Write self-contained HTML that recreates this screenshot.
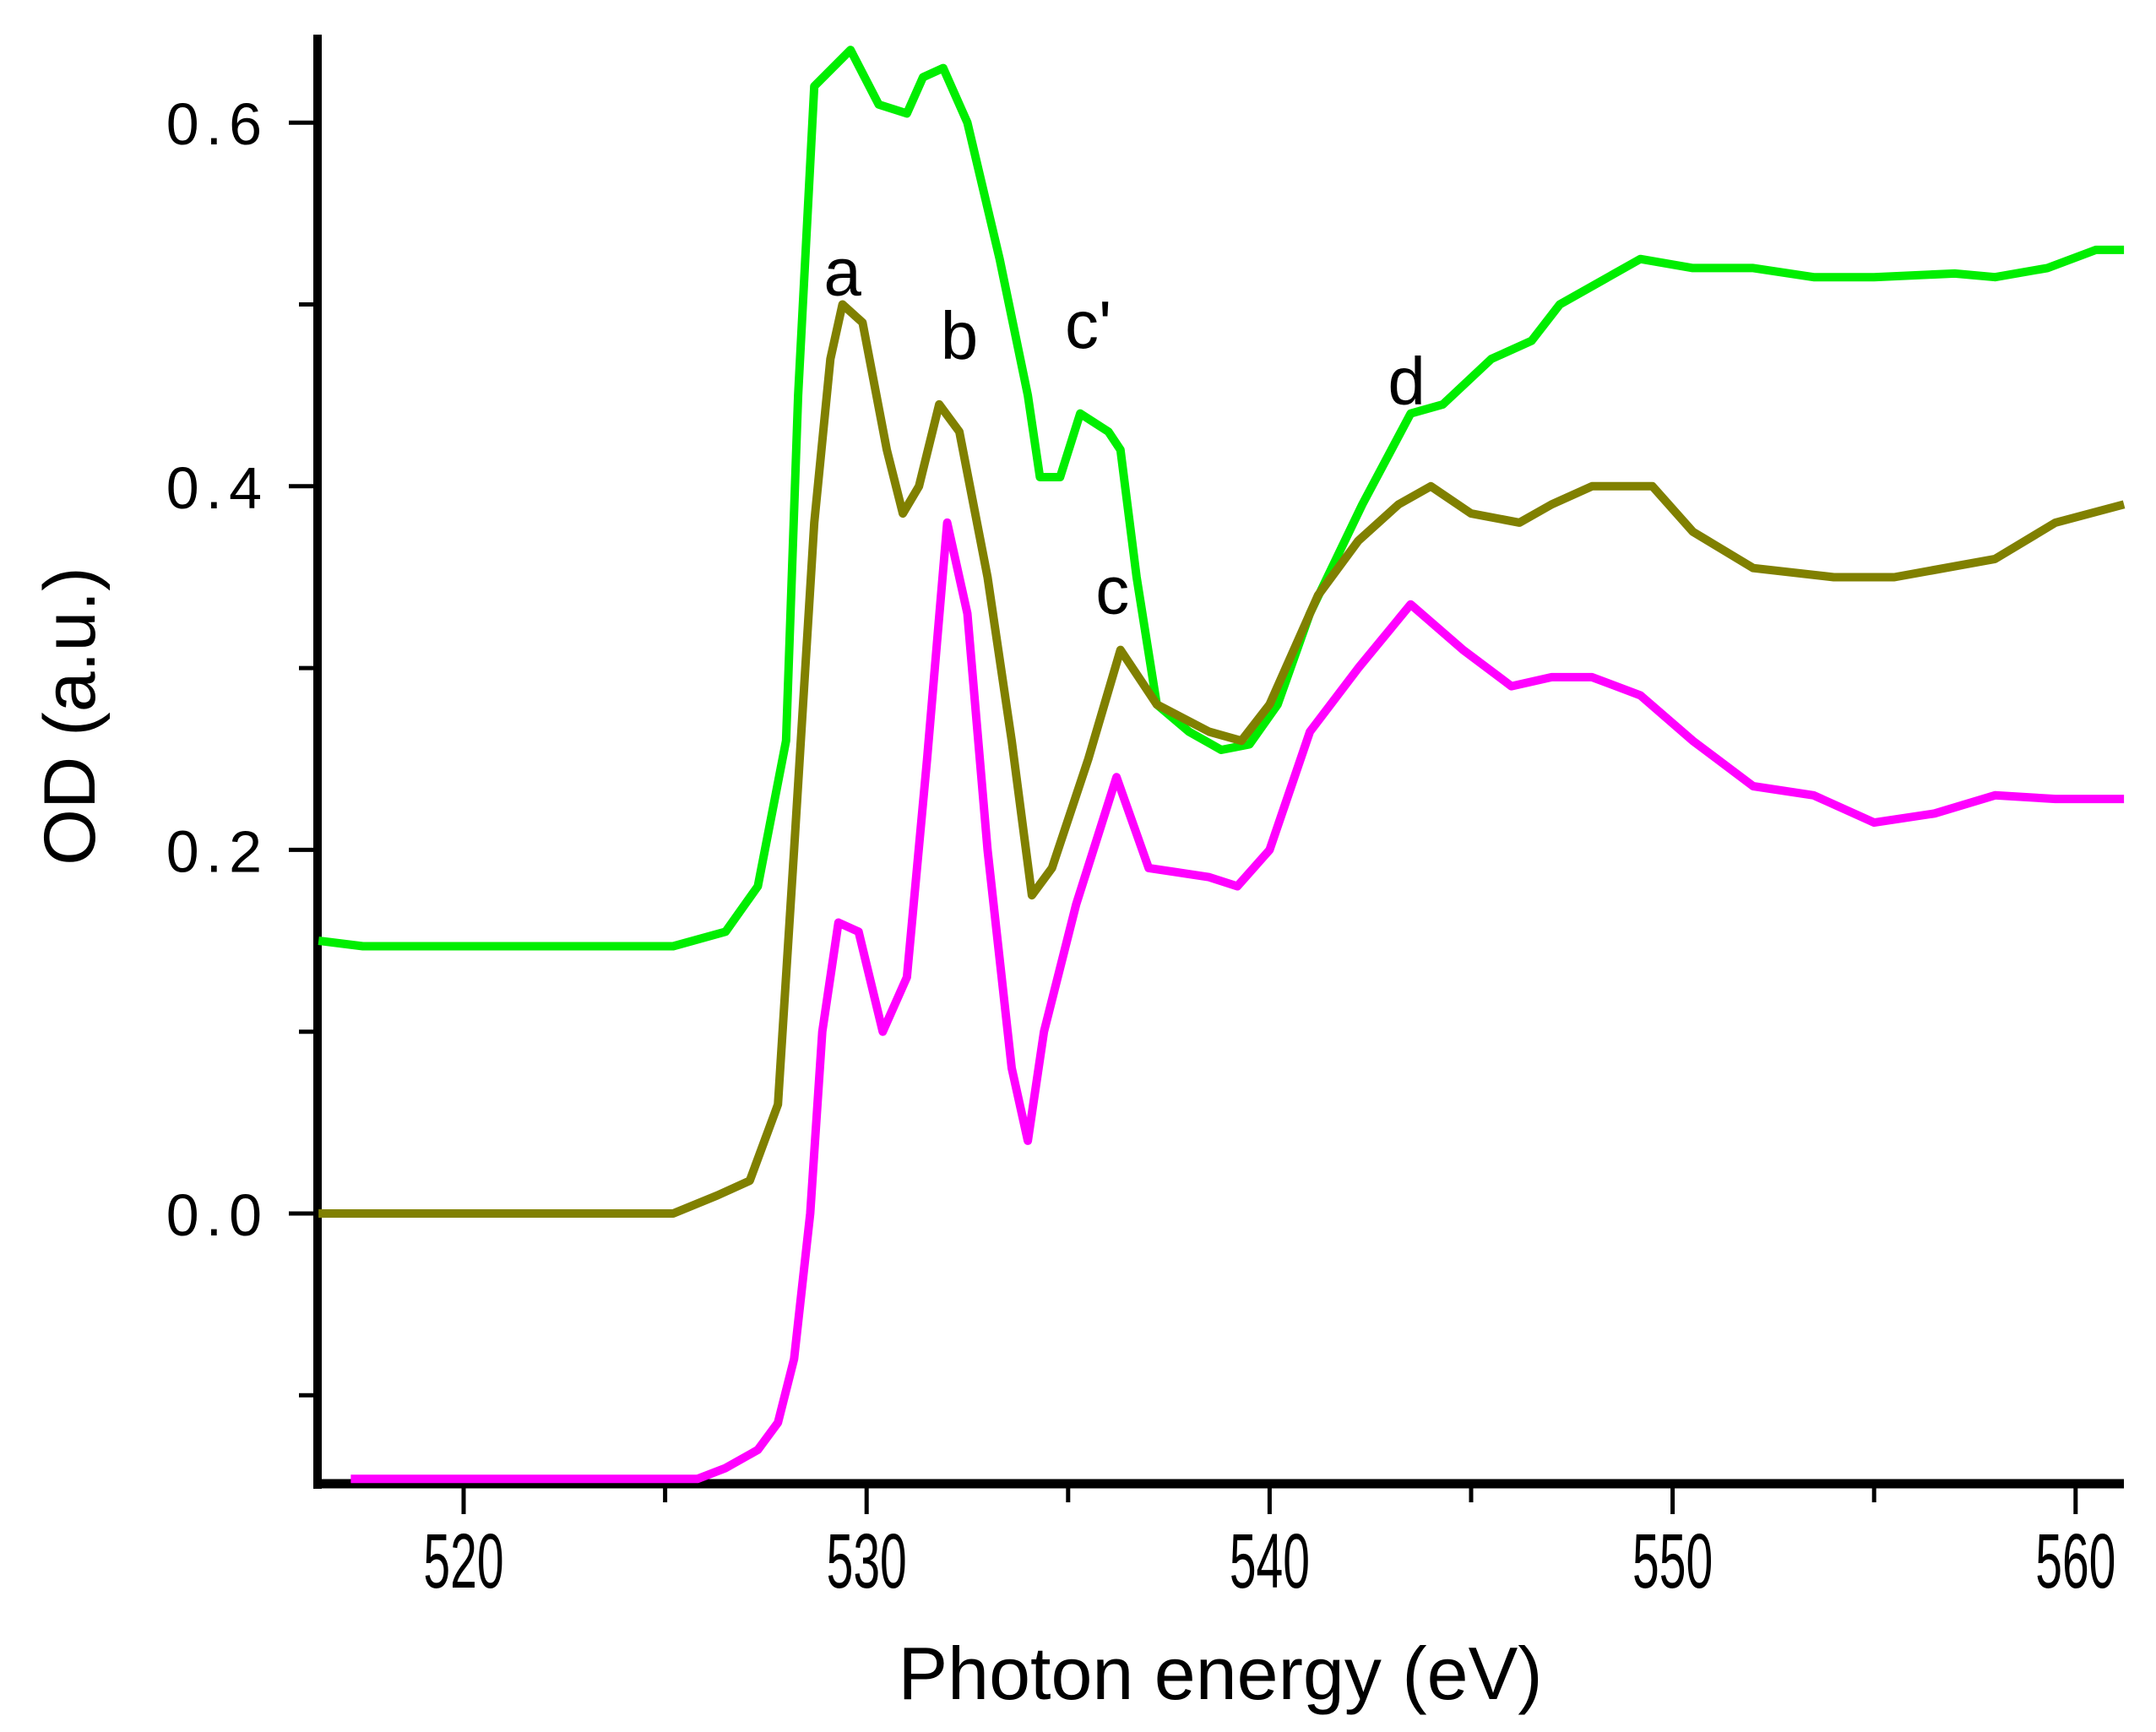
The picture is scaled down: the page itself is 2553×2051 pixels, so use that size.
<!DOCTYPE html>
<html><head><meta charset="utf-8"><style>body{margin:0;background:#fff}svg{display:block}</style></head>
<body>
<svg id="chart" width="2553" height="2051" viewBox="0 0 2553 2051" xmlns="http://www.w3.org/2000/svg" font-family="Liberation Sans, Arial, sans-serif"></svg>
<script>
const xTicks=[520,530,540,550,560];
const xMinor=[525,535,545,555];
const yTicks=[0.0,0.2,0.4,0.6];
const yMinor=[-0.1,0.1,0.3,0.5];
const greenX=[516.4,517.5,525.2,526.5,527.3,528.0,528.3,528.7,529.6,530.3,531.0,531.4,531.9,532.5,533.3,534.0,534.3,534.8,535.3,536.0,536.3,536.7,537.2,538.0,538.8,539.5,540.2,541.0,542.3,543.5,544.3,545.5,546.5,547.2,549.2,550.5,552,553.5,555,557,558,559.3,560.5,561.2];
const greenY=[0.15,0.147,0.147,0.155,0.18,0.26,0.45,0.62,0.64,0.61,0.605,0.625,0.63,0.6,0.525,0.45,0.405,0.405,0.44,0.43,0.42,0.35,0.28,0.265,0.255,0.258,0.28,0.33,0.39,0.44,0.445,0.47,0.48,0.5,0.525,0.52,0.52,0.515,0.515,0.517,0.515,0.52,0.53,0.53];
const oliveX=[516.4,525.2,526.3,527.1,527.8,528.2,528.7,529.1,529.4,529.9,530.5,530.9,531.3,531.8,532.3,533.0,533.6,534.1,534.6,535.5,536.3,537.2,538.5,539.3,540.0,541.2,542.2,543.2,544.0,545.0,546.2,547.0,548.0,549.5,550.5,552,554,555.5,558,559.5,561.2];
const oliveY=[0,0,0.01,0.018,0.06,0.2,0.38,0.47,0.5,0.49,0.42,0.385,0.4,0.445,0.43,0.35,0.26,0.175,0.19,0.25,0.31,0.28,0.265,0.26,0.28,0.34,0.37,0.39,0.4,0.385,0.38,0.39,0.4,0.4,0.375,0.355,0.35,0.35,0.36,0.38,0.39];
const magX=[517.2,525.8,526.5,527.3,527.8,528.2,528.6,528.9,529.3,529.8,530.4,531.0,531.5,532.0,532.5,533.0,533.6,534.0,534.4,535.2,536.2,537.0,538.5,539.2,540.0,541.0,542.2,543.5,544.8,546.0,547.0,548.0,549.2,550.5,552,553.5,555,556.5,558,559.5,561.2];
const magY=[-0.146,-0.146,-0.14,-0.13,-0.115,-0.08,0.0,0.1,0.16,0.155,0.1,0.13,0.25,0.38,0.33,0.2,0.08,0.04,0.1,0.17,0.24,0.19,0.185,0.18,0.2,0.265,0.3,0.335,0.31,0.29,0.295,0.295,0.285,0.26,0.235,0.23,0.215,0.22,0.23,0.228,0.228];
const peakLabels=['a','b',"c'",'c','d'];
const peakX=[529.4,532.3,535.5,536.1,543.4];
const peakY=[0.505,0.47,0.476,0.33,0.445];

const X0=376,X1=2515,YT=41,YB=1757;
const sx=v=>549+(v-520)*47.72;
const sy=v=>1437-v*2153;
const NS='http://www.w3.org/2000/svg';
const svg=document.getElementById('chart');
function mk(t,a){const e=document.createElementNS(NS,t);for(const k in a)e.setAttribute(k,a[k]);svg.appendChild(e);return e;}

const ya=mk('line',{x1:X0,y1:YT,x2:X0,y2:YB+6,stroke:'#000','stroke-width':10});


const xa=mk('line',{x1:X0-5,y1:YB,x2:X1,y2:YB,stroke:'#000','stroke-width':11});



function series(xs,ys,color,name){
  const d=xs.map((x,i)=>(i?'L':'M')+sx(x).toFixed(1)+','+sy(ys[i]).toFixed(1)).join(' ');
  const p=mk('path',{d:d,fill:'none',stroke:color,'stroke-width':10,'stroke-linejoin':'round'});
  
  
}
series(greenX,greenY,'#00ee00','green-series');
series(oliveX,oliveY,'#808000','olive-series');
series(magX,magY,'#ff00ff','magenta-series');

xTicks.forEach(v=>{
  const t=mk('line',{x1:sx(v),y1:YB,x2:sx(v),y2:YB+36,stroke:'#000','stroke-width':5});
  
  
  const l=mk('text',{x:0,y:0,'font-size':92,'text-anchor':'middle',transform:'translate('+sx(v)+',1880) scale(0.62,1)'});
  l.textContent=v;
  
  
});
xMinor.forEach(v=>{
  const t=mk('line',{x1:sx(v),y1:YB,x2:sx(v),y2:YB+22,stroke:'#000','stroke-width':5});
  
  
});
yTicks.forEach(v=>{
  const t=mk('line',{x1:X0-34,y1:sy(v),x2:X0,y2:sy(v),stroke:'#000','stroke-width':5});
  
  
  const l=mk('text',{x:318,y:sy(v)+26,'font-size':70,'text-anchor':'end','letter-spacing':'8'});
  l.textContent=v.toFixed(1);
  
  
});
yMinor.forEach(v=>{
  const t=mk('line',{x1:X0-22,y1:sy(v),x2:X0,y2:sy(v),stroke:'#000','stroke-width':5});
  
  
});
peakLabels.forEach((s,i)=>{
  const l=mk('text',{x:sx(peakX[i]),y:sy(peakY[i]),'font-size':80,'text-anchor':'middle'});
  l.textContent=s;
  
  
});
const xt=mk('text',{x:1445,y:2012,'font-size':88,'text-anchor':'middle'});
xt.textContent='Photon energy (eV)';


const yt=mk('text',{x:112,y:848,'font-size':86,'text-anchor':'middle',transform:'rotate(-90 112 848)'});
yt.textContent='OD (a.u.)';


</script>
</body></html>
